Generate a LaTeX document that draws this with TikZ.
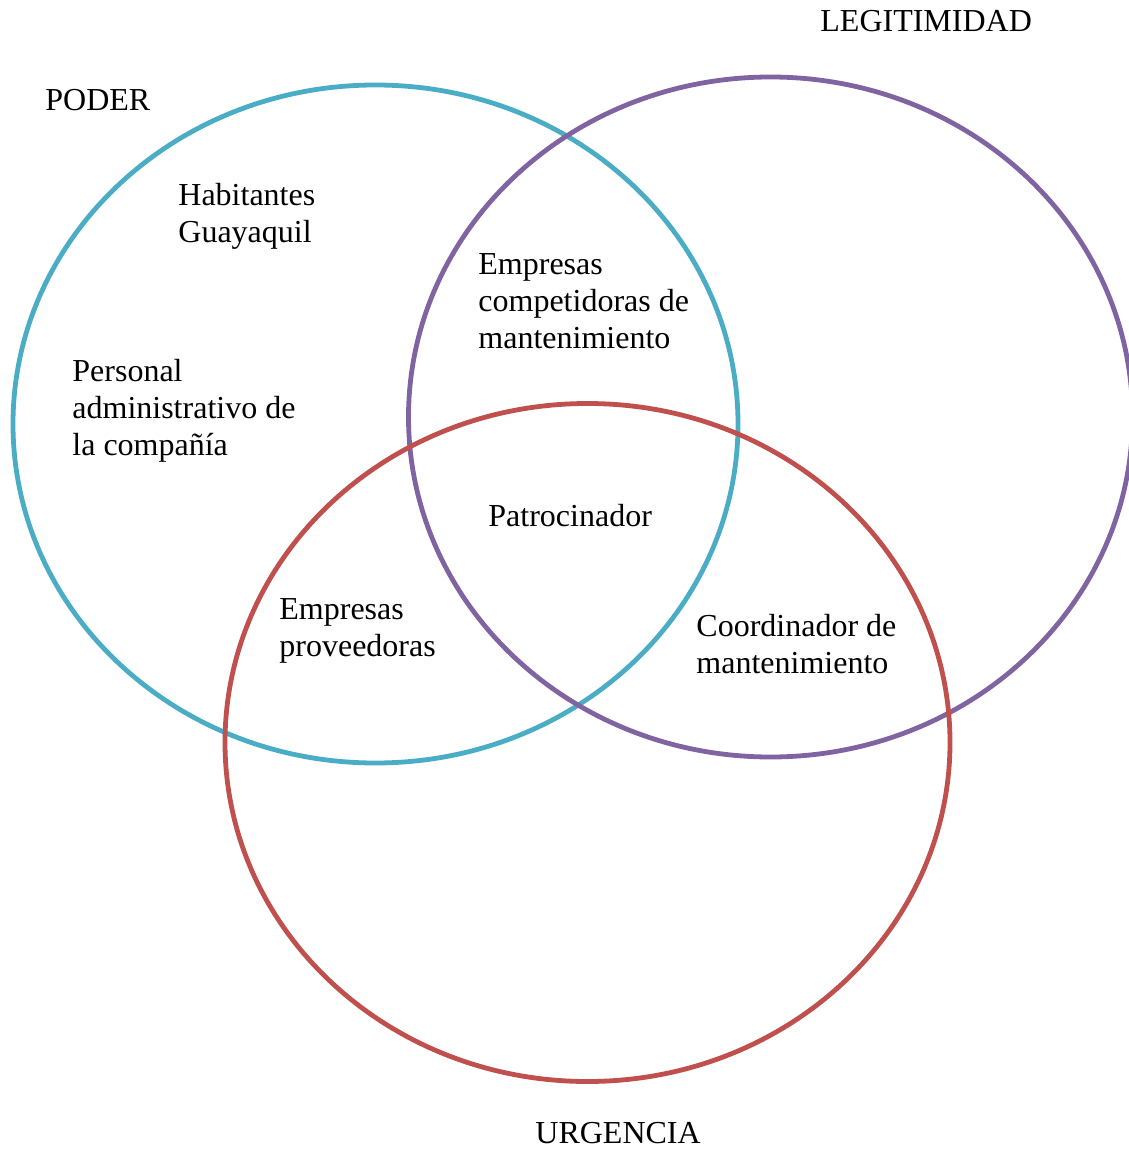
\documentclass[tikz,border=0pt]{standalone}
\usepackage{fontspec}
\setmainfont{Liberation Serif}
\usepackage{xcolor}
\usetikzlibrary{positioning}
\definecolor{poderblue}{HTML}{4BACC6}
\definecolor{legitpurple}{HTML}{8064A2}
\definecolor{urgred}{HTML}{C0504D}

\begin{document}
\begin{tikzpicture}[
    x=0.5pt, y=-0.5pt,
    ring/.style={
        line width=2.4pt
    },
    label/.style={
        font=\fontsize{16}{18.5}\selectfont,
        inner sep=0pt,
        anchor=base west
    },
    group/.style={
        font=\fontsize{16}{18.5}\selectfont,
        inner sep=0pt,
        anchor=north west,
        align=left
    }
]
    \useasboundingbox (0,0) rectangle (1128,1149);

    \draw[ring, draw=poderblue] (375.5,424) ellipse [x radius=181.25pt, y radius=169.5pt];
    \draw[ring, draw=legitpurple] (770.5,417) ellipse [x radius=181pt, y radius=170pt];
    \draw[ring, draw=urgred] (587.5,742.5) ellipse [x radius=181.25pt, y radius=169.5pt];

    \node[label] (poder) at (45,111) {PODER};
    \node[label] (legit) at (820,32) {LEGITIMIDAD};
    \node[label] (urgencia) at (535,1143) {URGENCIA};

    \node[group] (habitantes) at (178,183) {Habitantes\\Guayaquil};
    \node[group] (personal) at (72,359) {Personal\\administrativo de\\la compañía};
    \node[group] (competidoras) at (478,253) {Empresas\\competidoras de\\mantenimiento};
    \node[label] (patrocinador) at (488,526) {Patrocinador};
    \node[group] (proveedoras) at (279,598) {Empresas\\proveedoras};
    \node[group] (coordinador) at (696,614) {Coordinador de\\mantenimiento};
\end{tikzpicture}
\end{document}
